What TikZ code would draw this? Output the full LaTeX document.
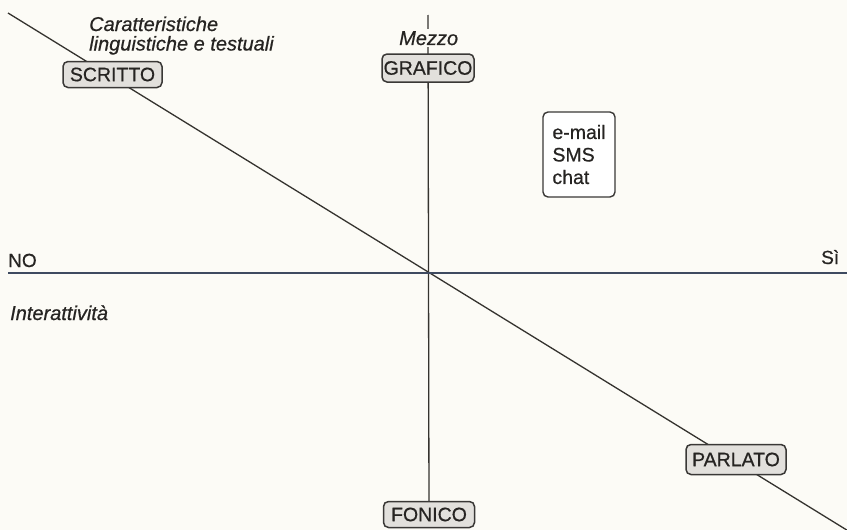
\documentclass[tikz,border=0pt]{standalone}
\usepackage{fontspec}
\setmainfont[FakeBold=0.6]{Liberation Sans}
\pgfdeclarelayer{paper}
\pgfdeclarelayer{axes}
\pgfsetlayers{paper,axes,main}
\definecolor{paperc}{HTML}{FCFBF6}
\definecolor{boxfill}{HTML}{E2E0DC}
\definecolor{boxline}{HTML}{3A3836}
\definecolor{axisc}{HTML}{35332F}
\definecolor{haxis}{HTML}{3E4A60}
\definecolor{inkc}{HTML}{262422}
\begin{document}
\begin{tikzpicture}[x=1pt,y=-1pt,
  pole/.style={draw=boxline, fill=boxfill, line width=1.5pt, rounded corners=5pt,
    inner sep=0pt, text=inkc, font=\fontsize{19.5}{19.5}\selectfont},
  listbox/.style={draw=boxline, fill=white, line width=1.4pt, rounded corners=5pt,
    inner sep=0pt, text=inkc, align=left, font=\fontsize{19.5}{22.5}\selectfont,
    minimum width=72pt, minimum height=85pt},
  axislabel/.style={text=inkc, inner sep=0pt, anchor=base west, font=\fontsize{20}{18}\selectfont\itshape},
  endlabel/.style={text=inkc, inner sep=0pt, anchor=base west, font=\fontsize{19}{19}\selectfont},
  axisline/.style={draw=axisc, line width=1.3pt}
]
\begin{pgfonlayer}{paper}
  \fill[paperc] (0,0) rectangle (847,530);
\end{pgfonlayer}
\useasboundingbox (0,0) rectangle (847,530);

% named end points of the axes
\coordinate (dtl) at (8,13);
\coordinate (dbr) at (850,532);
\coordinate (hl) at (8,273);
\coordinate (hr) at (850,273);
\coordinate (vtop) at (428,15);

% poles
\node[pole, minimum width=99pt, minimum height=26pt] (scritto) at (112.5,74.5) {SCRITTO};
\node[pole, minimum width=92pt, minimum height=28pt] (grafico) at (428,68) {GRAFICO};
\node[pole, minimum width=100pt, minimum height=30pt] (parlato) at (736,459.5) {PARLATO};
\node[pole, minimum width=91pt, minimum height=26pt] (fonico) at (429,514.5) {FONICO};

\node[listbox] (media) at (579,154.5) {e-mail\\SMS\\chat};

% labels
\node[axislabel] (car1) at (89,31) {Caratteristiche};
\node[axislabel] (car2) at (89,50.5) {linguistiche e testuali};
\node[axislabel, fill=paperc, inner ysep=2pt] (mezzo) at (399,45) {Mezzo};
\node[axislabel] (inter) at (10,320) {Interattività};
\node[endlabel] (no) at (8,267) {NO};
\node[endlabel] (si) at (821,264) {Sì};

\begin{pgfonlayer}{axes}
  \draw[axisline] (dtl) -- (dbr);
  \draw[axisline] (vtop) -- (fonico.center);
  \draw[draw=haxis, line width=1.3pt] (hl) -- (hr);
\end{pgfonlayer}
\end{tikzpicture}
\end{document}
